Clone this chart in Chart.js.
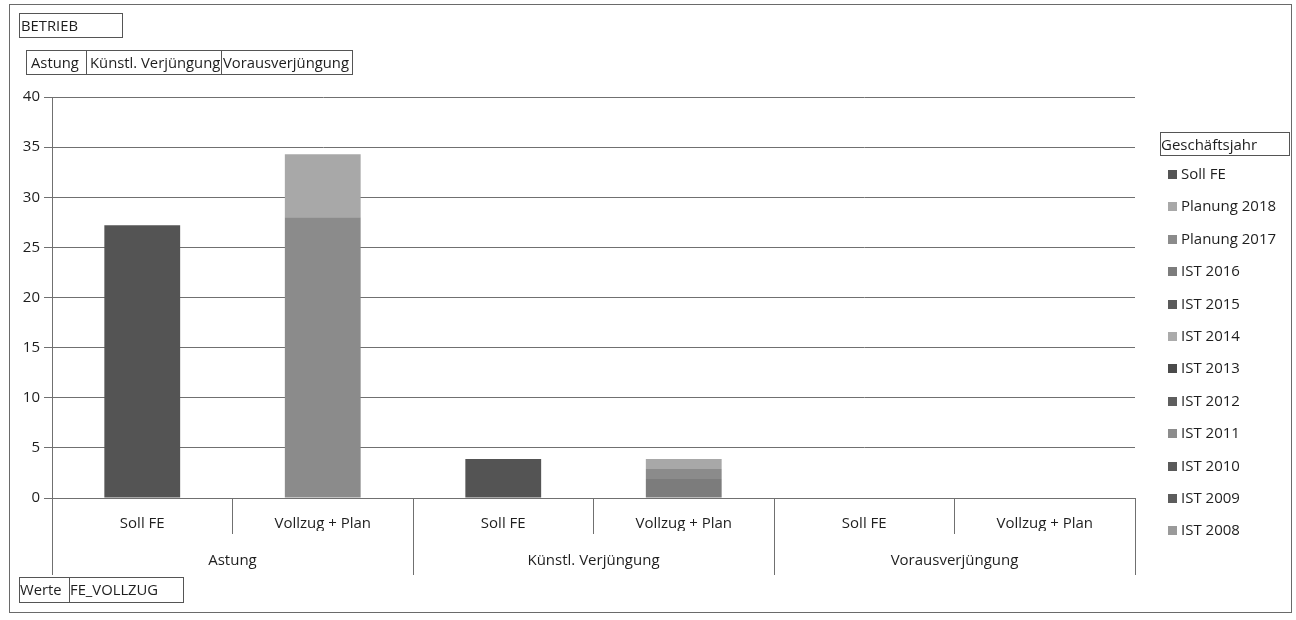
<!DOCTYPE html>
<html><head><meta charset="utf-8">
<script src="https://cdn.jsdelivr.net/npm/chart.js@4/dist/chart.umd.min.js"></script>
<style>
html,body{margin:0;padding:0;background:#fff;}
#wrap{position:relative;width:1296px;height:620px;overflow:hidden;font-family:'Open Sans',Lato,sans-serif;color:#1e1e1e;}
#c{position:absolute;left:0;top:0;}
.frame{position:absolute;left:9px;top:4px;width:1283px;height:609px;border:1px solid #6a6a6a;box-sizing:border-box;}
.box{position:absolute;border:1px solid #555;font-size:14.8px;line-height:23px;padding-left:2px;box-sizing:border-box;white-space:nowrap;overflow:hidden;}
.leg{position:absolute;left:1168px;font-size:15px;white-space:nowrap;height:20px;line-height:20px;}
.leg i{display:inline-block;width:9px;height:9px;margin-right:4px;vertical-align:0px;}
</style></head>
<body><div id="wrap">
<div class="frame"></div>
<canvas id="c" width="1296" height="620"></canvas>
<div class="box" style="left:19px;top:13px;width:104px;height:25px;padding-left:1px;">BETRIEB</div>
<div class="box" style="left:26px;top:50px;width:61px;height:25px;padding-left:4px;">Astung</div>
<div class="box" style="left:86px;top:50px;width:136px;height:25px;padding-left:3px;">Künstl. Verjüngung</div>
<div class="box" style="left:221px;top:50px;width:132px;height:25px;padding-left:1px;">Vorausverjüngung</div>
<div class="box" style="left:19px;top:577px;width:51px;height:26px;padding-left:0px;">Werte</div>
<div class="box" style="left:69px;top:577px;width:115px;height:26px;padding-left:0px;">FE_VOLLZUG</div>
<div class="box" style="left:1160px;top:132px;width:130px;height:24px;font-size:15px;padding-left:0px;">Geschäftsjahr</div>
<div id="legend"></div>
</div>
<script>
const subLabels = ['Soll FE','Vollzug + Plan','Soll FE','Vollzug + Plan','Soll FE','Vollzug + Plan'];
const groupLabels = ['Astung','Künstl. Verjüngung','Vorausverjüngung'];
const yTicks = [0,5,10,15,20,25,30,35,40];

const ist2008 = [0,0,0,0,0,0];
const ist2009 = [0,0,0,0,0,0];
const ist2010 = [0,0,0,0,0,0];
const ist2011 = [0,0,0,0,0,0];
const ist2012 = [0,0,0,0,0,0];
const ist2013 = [0,0,0,0,0,0];
const ist2014 = [0,0,0,0,0,0];
const ist2015 = [0,0,0,0,0,0];
const ist2016 = [0,0,0,1.9,0,0];
const planung2017 = [0,28.0,0,1.0,0,0];
const planung2018 = [0,6.3,0,1.0,0,0];
const sollFE = [27.2,0,3.9,0,0,0];

const seriesNames = ['IST 2008','IST 2009','IST 2010','IST 2011','IST 2012','IST 2013','IST 2014','IST 2015','IST 2016','Planung 2017','Planung 2018','Soll FE'];
const seriesData = [ist2008,ist2009,ist2010,ist2011,ist2012,ist2013,ist2014,ist2015,ist2016,planung2017,planung2018,sollFE];
const seriesColors = ['#9a9a9a','#5c5c5c','#5a5a5a','#8c8c8c','#5e5e5e','#4a4a4a','#ababab','#5a5a5a','#7c7c7c','#8b8b8b','#a8a8a8','#545454'];

const datasets = seriesNames.map((n,i)=>({
  label:n, data:seriesData[i], backgroundColor:seriesColors[i], borderWidth:0,
  barPercentage:0.42, categoryPercentage:1.0, xAxisID:'x', stack:'s'
}));

const txt = '#1e1e1e';
const gridC = '#707070';
const F = 'Open Sans';
const chart = new Chart(document.getElementById('c'), {
  type:'bar',
  data:{labels:subLabels, datasets},
  options:{
    responsive:false, animation:false, devicePixelRatio:1,
    layout:{padding:{left:0,top:97,right:161,bottom:49}},
    plugins:{legend:{display:false},tooltip:{enabled:false},title:{display:false}},
    scales:{
      x:{
        type:'category', position:'bottom', stacked:true, offset:true,
        grid:{display:true, offset:true, drawOnChartArea:false, drawTicks:true, tickLength:36, color:gridC, lineWidth:1},
        border:{display:true, color:gridC},
        ticks:{color:txt, font:{family:F, size:15}, padding:-19, maxRotation:0, autoSkip:false},
        afterFit:(s)=>{s.height=33;}
      },
      x2:{
        type:'category', position:'bottom', labels:groupLabels, offset:true,
        grid:{display:true, offset:true, drawOnChartArea:false, drawTicks:true, tickLength:44, color:gridC, lineWidth:1},
        border:{display:false},
        ticks:{color:txt, font:{family:F, size:15}, padding:-23, maxRotation:0, autoSkip:false},
        afterFit:(s)=>{s.height=40;}
      },
      y:{
        stacked:true, min:0, max:40,
        afterBuildTicks:(s)=>{s.ticks = yTicks.map(v=>({value:v}));},
        grid:{color:gridC, lineWidth:1, tickLength:8},
        border:{display:true, color:gridC},
        ticks:{color:txt, font:{family:F, size:15}, padding:4},
        afterFit:(s)=>{s.width=52;}
      }
    }
  }
});

// HTML legend generated from the datasets (reverse order as in the original)
const leg = document.getElementById('legend');
const items = chart.data.datasets.slice().reverse();
items.forEach((d,i)=>{
  const el = document.createElement('div');
  el.className='leg';
  el.style.top = (173 + i*32.4 - 10) + 'px';
  el.innerHTML = '<i style="background:'+d.backgroundColor+'"></i>'+d.label;
  leg.appendChild(el);
});
</script>
</body></html>
